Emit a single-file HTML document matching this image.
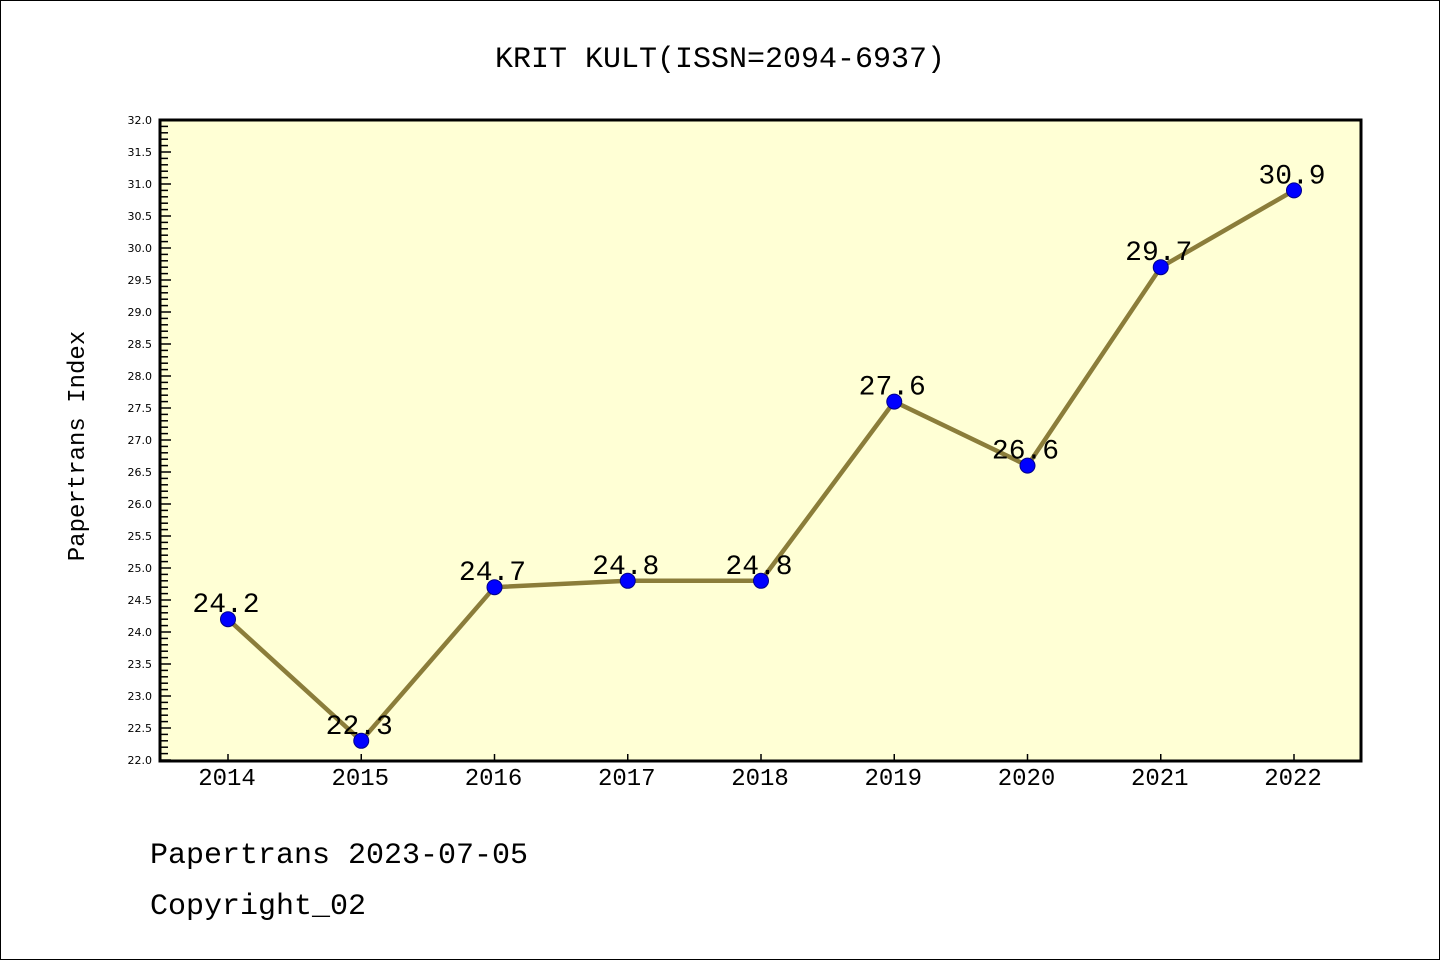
<!DOCTYPE html>
<html><head><meta charset="utf-8"><style>
body{margin:0;background:#fff}
svg text{font-family:"WenQuanYi Zen Hei","Liberation Mono",monospace}
svg text.tk{font-family:"DejaVu Sans","Liberation Sans",sans-serif}
</style></head><body>
<svg id="c" width="1440" height="960" xmlns="http://www.w3.org/2000/svg">
<rect x="0.5" y="0.5" width="1439" height="959" fill="#fff" stroke="#000"/>
<text x="720" y="67" text-anchor="middle" font-size="30">KRIT KULT(ISSN=2094-6937)</text>
<rect x="160" y="120" width="1201" height="641" fill="#ffffd5"/>
<text transform="translate(84,446) rotate(-90)" text-anchor="middle" font-size="24">Papertrans Index</text>
<text x="150" y="863" font-size="30">Papertrans 2023-07-05</text>
<text x="150" y="914" font-size="30">Copyright_02</text>
<g id="ax"></g><g id="marks"></g>
<rect x="160" y="120" width="1201" height="641" fill="none" stroke="#000" stroke-width="3"/>
</svg>
<script>
const years=[2014,2015,2016,2017,2018,2019,2020,2021,2022];
const values=[24.2,22.3,24.7,24.8,24.8,27.6,26.6,29.7,30.9];
const labels=["24.2","22.3","24.7","24.8","24.8","27.6","26.6","29.7","30.9"];
const yMin=22,yMax=32;
const NS="http://www.w3.org/2000/svg";
function X(i){return 228+i*(1294-228)/(years.length-1);}
function Y(v){return 760-(v-yMin)*(760-120)/(yMax-yMin);}
function mk(t,a,p){const e=document.createElementNS(NS,t);for(const k in a)e.setAttribute(k,a[k]);p.appendChild(e);return e;}
const ax=document.getElementById('ax'),mg=document.getElementById('marks');
for(let k=0;k<=100;k++){const v=yMin+k*0.1;const y=Y(v);const major=k%5===0;
 const l=mk('line',{x1:160,x2:major?171:168,y1:y,y2:y,stroke:'#000','stroke-width':1.5},ax);
 
 
 if(major){const t=mk('text',{x:152,y:y+4,'text-anchor':'end','font-size':11,'class':'tk'},ax);t.textContent=v.toFixed(1);
 
 }}
years.forEach((yr,i)=>{const x=X(i);
 const l=mk('line',{x1:x,x2:x,y1:760,y2:754,stroke:'#000','stroke-width':1.5},ax);
 
 
 const t=mk('text',{x:x-1,y:785,'text-anchor':'middle','font-size':24},ax);t.textContent=yr;
 
 });
const pl=mk('polyline',{points:values.map((v,i)=>X(i)+','+Y(v)).join(' '),fill:'none',stroke:'#8b7d3a','stroke-width':4.5},mg);


values.forEach((v,i)=>{
 const c=mk('circle',{cx:X(i),cy:Y(v),r:7.5,fill:'#0000ff',stroke:'#00008b','stroke-width':1},mg);
 
 
 const t=mk('text',{x:X(i)-2,y:Y(v)-7,'text-anchor':'middle','font-size':28},mg);t.textContent=labels[i];
 
 });
</script>
</body></html>
